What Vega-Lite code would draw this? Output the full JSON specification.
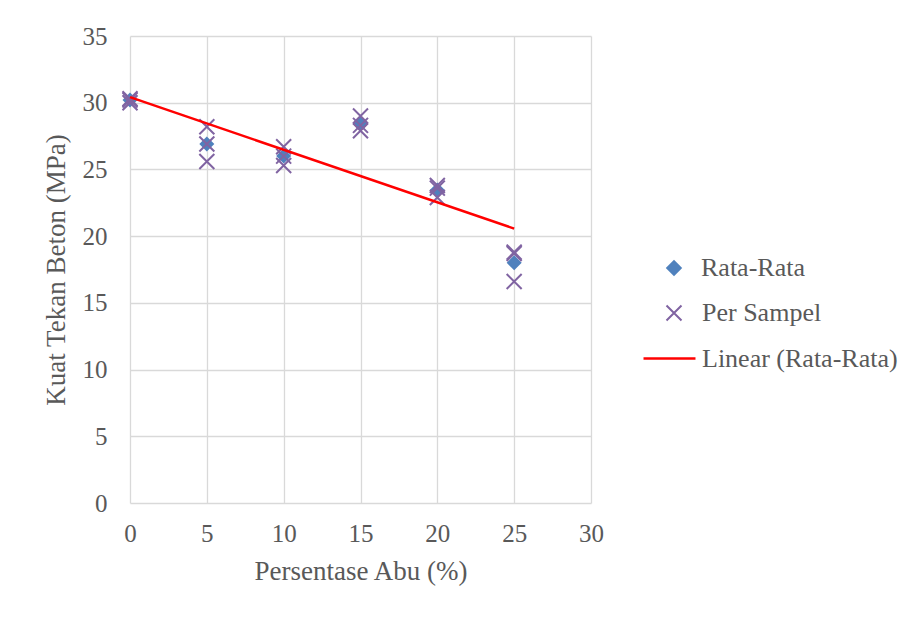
{
  "$schema": "https://vega.github.io/schema/vega-lite/v6.json",
  "width": 461,
  "height": 467,
  "autosize": {"type": "none"},
  "padding": {"left": 130, "top": 36, "right": 328, "bottom": 114},
  "background": "white",
  "config": {
    "view": {"stroke": null},
    "font": "Liberation Serif",
    "axis": {
      "domain": false,
      "ticks": false,
      "grid": true,
      "gridColor": "#d9d9d9",
      "gridWidth": 1.3,
      "labelFlush": false,
      "labelFont": "Liberation Serif",
      "labelFontSize": 25,
      "labelColor": "#595959",
      "titleFont": "Liberation Serif",
      "titleFontSize": 27,
      "titleFontWeight": "normal",
      "titleColor": "#595959"
    },
    "legend": {
      "labelFont": "Liberation Serif",
      "labelFontSize": 26,
      "labelColor": "#595959",
      "labelLimit": 400,
      "symbolStrokeWidth": 2,
      "symbolOpacity": 1
    }
  },
  "data": {
    "values": [
      {"x": 0, "y": 30.2, "series": "Rata-Rata"},
      {"x": 5, "y": 26.9, "series": "Rata-Rata"},
      {"x": 10, "y": 26.0, "series": "Rata-Rata"},
      {"x": 15, "y": 28.4, "series": "Rata-Rata"},
      {"x": 20, "y": 23.45, "series": "Rata-Rata"},
      {"x": 25, "y": 18.0, "series": "Rata-Rata"},
      {"x": 0, "y": 30.0, "series": "Per Sampel"},
      {"x": 0, "y": 30.3, "series": "Per Sampel"},
      {"x": 0, "y": 30.2, "series": "Per Sampel"},
      {"x": 5, "y": 28.2, "series": "Per Sampel"},
      {"x": 5, "y": 26.9, "series": "Per Sampel"},
      {"x": 5, "y": 25.6, "series": "Per Sampel"},
      {"x": 10, "y": 26.7, "series": "Per Sampel"},
      {"x": 10, "y": 26.0, "series": "Per Sampel"},
      {"x": 10, "y": 25.3, "series": "Per Sampel"},
      {"x": 15, "y": 29.0, "series": "Per Sampel"},
      {"x": 15, "y": 28.3, "series": "Per Sampel"},
      {"x": 15, "y": 27.9, "series": "Per Sampel"},
      {"x": 20, "y": 23.8, "series": "Per Sampel"},
      {"x": 20, "y": 23.6, "series": "Per Sampel"},
      {"x": 20, "y": 22.9, "series": "Per Sampel"},
      {"x": 25, "y": 18.7, "series": "Per Sampel"},
      {"x": 25, "y": 18.8, "series": "Per Sampel"},
      {"x": 25, "y": 16.6, "series": "Per Sampel"}
    ]
  },
  "encoding": {
    "x": {
      "field": "x",
      "type": "quantitative",
      "scale": {"domain": [0, 30], "nice": false},
      "axis": {"values": [0, 5, 10, 15, 20, 25, 30], "title": "Persentase Abu (%)", "labelPadding": 18, "titlePadding": 12}
    },
    "y": {
      "field": "y",
      "type": "quantitative",
      "scale": {"domain": [0, 35], "nice": false},
      "axis": {"values": [0, 5, 10, 15, 20, 25, 30, 35], "title": "Kuat Tekan Beton (MPa)", "labelPadding": 23, "titlePadding": 12}
    }
  },
  "resolve": {"scale": {"fill": "independent", "stroke": "independent", "color": "independent"}},
  "layer": [
    {
      "transform": [{"filter": "datum.series === 'Rata-Rata'"}],
      "mark": {"type": "point", "shape": "diamond", "filled": true, "size": 225, "opacity": 1},
      "encoding": {
        "fill": {
          "field": "series",
          "type": "nominal",
          "scale": {"domain": ["Rata-Rata"], "range": ["#4F81BD"]},
          "legend": {"orient": "none", "legendX": 531, "legendY": 219, "title": null, "symbolSize": 270, "symbolType": "diamond", "labelOffset": 14}
        }
      }
    },
    {
      "transform": [{"filter": "datum.series === 'Per Sampel'"}],
      "mark": {"type": "point", "shape": "M-1,-1L1,1M-1,1L1,-1", "filled": false, "size": 225, "strokeWidth": 2, "opacity": 1},
      "encoding": {
        "stroke": {
          "field": "series",
          "type": "nominal",
          "scale": {"domain": ["Per Sampel"], "range": ["#8064A2"]},
          "legend": {"orient": "none", "legendX": 531, "legendY": 264, "title": null, "symbolSize": 225, "symbolType": "M-1,-1L1,1M-1,1L1,-1", "labelOffset": 15}
        }
      }
    },
    {
      "transform": [
        {"filter": "datum.series === 'Rata-Rata'"},
        {"regression": "y", "on": "x", "extent": [0, 25]}
      ],
      "mark": {"type": "line", "strokeWidth": 2.5},
      "encoding": {
        "color": {
          "datum": "Linear (Rata-Rata)",
          "type": "nominal",
          "scale": {"domain": ["Linear (Rata-Rata)"], "range": ["#FF0000"]},
          "legend": {"orient": "none", "legendX": 512, "legendY": 295, "title": null, "symbolSize": 2700, "symbolType": "stroke", "symbolStrokeWidth": 2.5, "labelOffset": 5}
        }
      }
    }
  ]
}
